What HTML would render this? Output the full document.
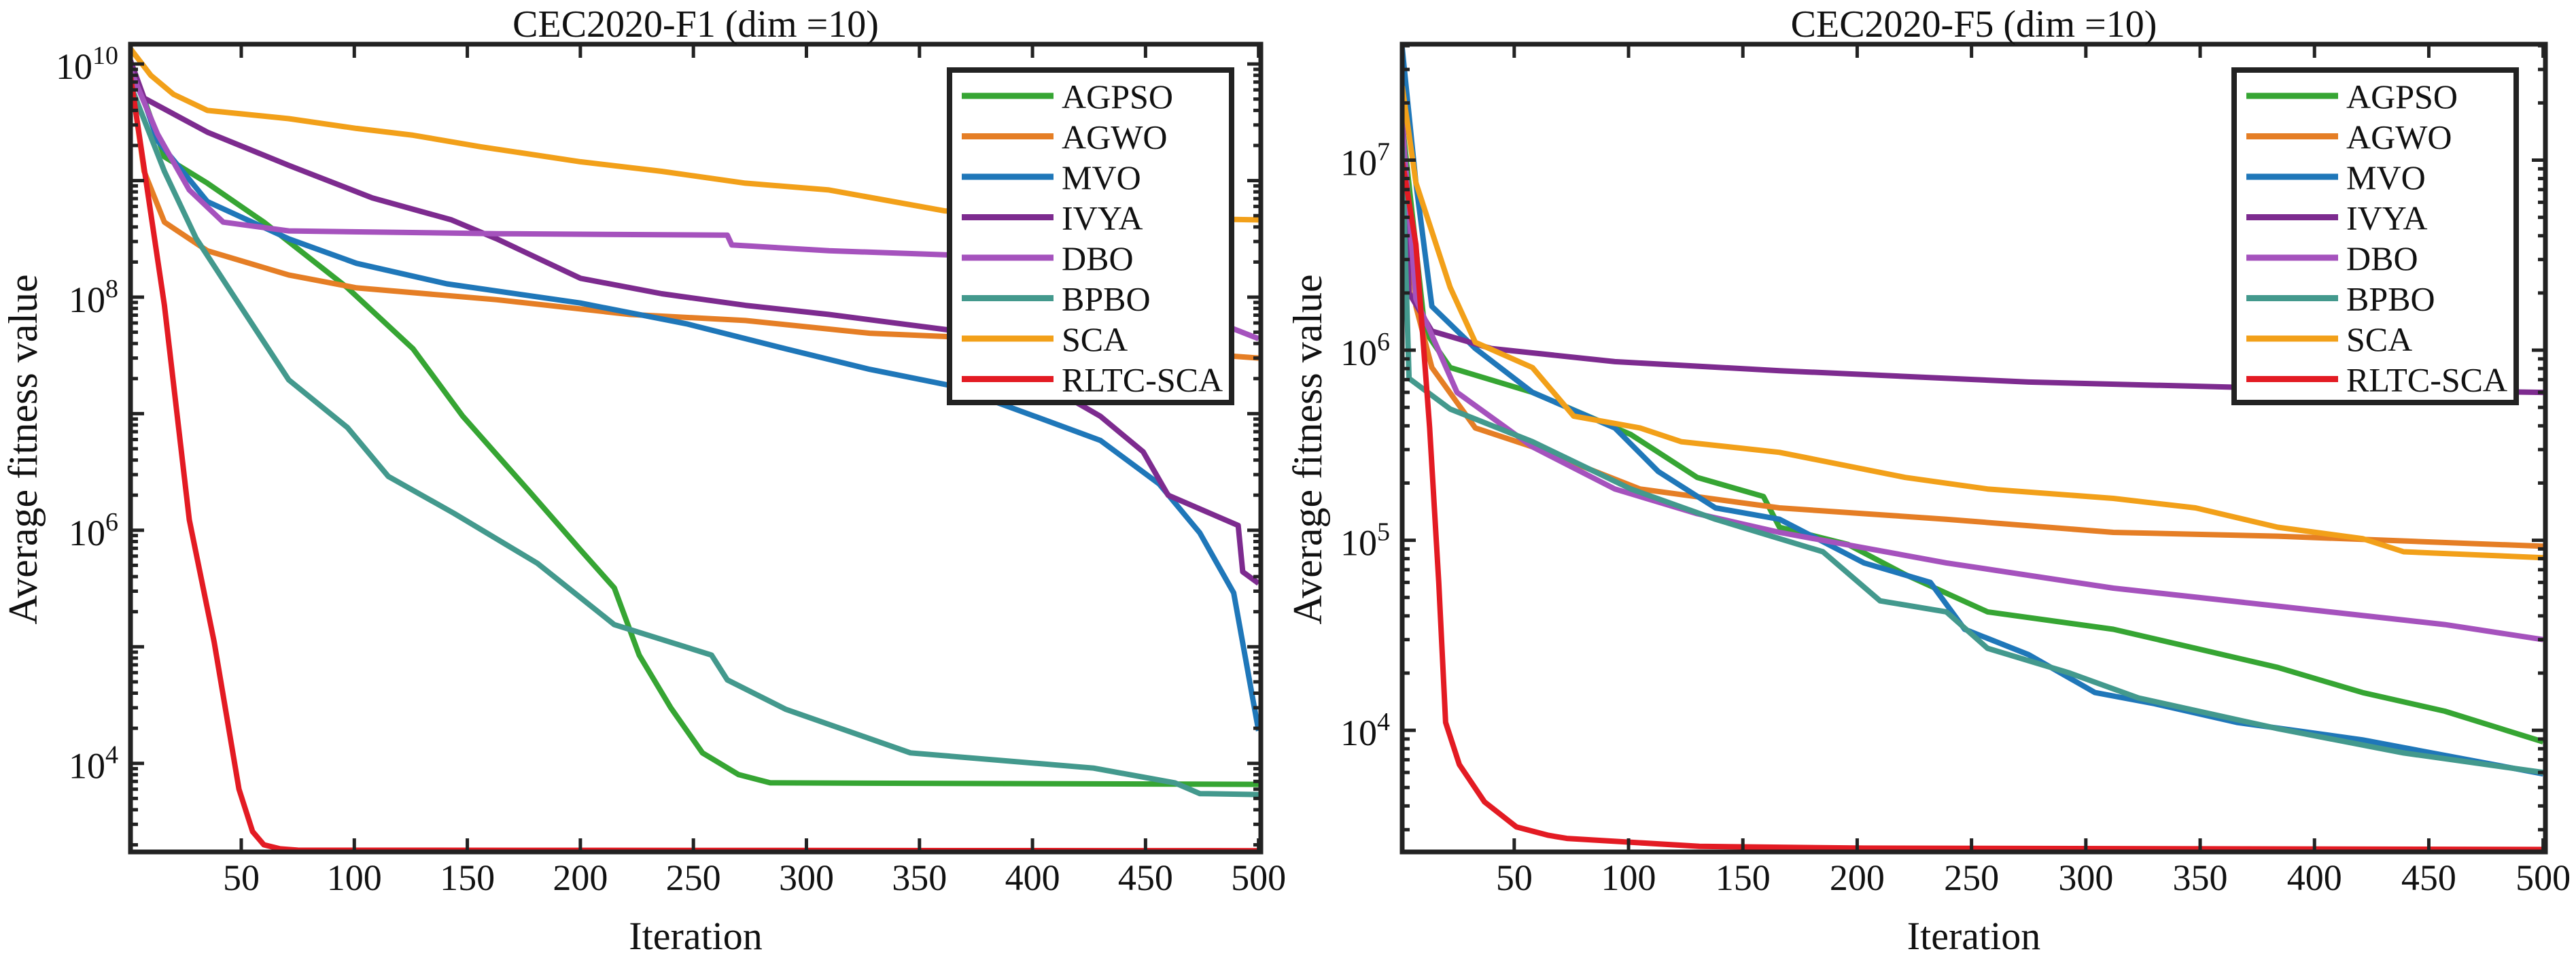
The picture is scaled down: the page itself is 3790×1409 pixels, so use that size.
<!DOCTYPE html>
<html><head><meta charset="utf-8"><style>
html,body{margin:0;padding:0;background:#fff;}
svg text{font-family:"Liberation Serif",serif;fill:#111;}
</style></head><body>
<svg id="chart" width="3790" height="1404" viewBox="0 0 3790 1404" xmlns="http://www.w3.org/2000/svg"></svg>
<script>
// ===== Data: CEC2020-F1 =====
const f1_it_AGPSO=[1,16,35,60,97,126,148,177,200,215,226,240,254,270,284,500];
const f1_v_AGPSO=[1.07e10,1.6e9,9.5e8,4.4e8,1.2e8,3.6e7,9.5e6,2.2e6,6.8e5,3.2e5,8.5e4,3.0e4,1.23e4,8.0e3,6.8e3,6.6e3];
const f1_it_AGWO=[1,7,16,35,71,101,163,222,273,328,383,500];
const f1_v_AGWO=[8.3e9,1.2e9,4.4e8,2.5e8,1.55e8,1.2e8,9.5e7,7.1e7,6.3e7,4.9e7,4.4e7,3.0e7];
const f1_it_MVO=[1,13,35,71,101,141,200,247,291,328,364,401,430,456,474,489,500];
const f1_v_MVO=[1.07e10,2.2e9,6.6e8,3.16e8,1.95e8,1.3e8,8.9e7,5.9e7,3.6e7,2.4e7,1.74e7,9.5e6,5.9e6,2.5e6,9.5e5,2.9e5,1.9e4];
const f1_it_IVYA=[1,7,35,71,108,143,163,200,236,273,310,364,420,430,449,460,491,493,500];
const f1_v_IVYA=[1.07e10,5.1e9,2.6e9,1.35e9,7.1e8,4.6e8,3.16e8,1.45e8,1.07e8,8.5e7,7.1e7,5.2e7,1.23e7,9.5e6,4.7e6,2.0e6,1.1e6,4.4e5,3.5e5];
const f1_it_DBO=[1,13,27,42,71,163,265,267,310,364,456,500];
const f1_v_DBO=[8.9e9,2.5e9,8.3e8,4.4e8,3.7e8,3.5e8,3.4e8,2.8e8,2.5e8,2.3e8,9.5e7,4.4e7];
const f1_it_BPBO=[1,16,30,46,71,97,115,144,181,215,258,265,291,346,427,463,474,500];
const f1_v_BPBO=[6.6e9,1.2e9,3.2e8,1.07e8,1.95e7,7.6e6,2.9e6,1.4e6,5.2e5,1.55e5,8.5e4,5.2e4,2.9e4,1.23e4,9.1e3,6.8e3,5.5e3,5.4e3];
const f1_it_SCA=[1,10,20,35,71,101,126,156,200,236,273,310,361,420,500];
const f1_v_SCA=[1.35e10,8.0e9,5.5e9,4.0e9,3.4e9,2.8e9,2.45e9,1.95e9,1.45e9,1.2e9,9.5e8,8.3e8,5.5e8,4.9e8,4.6e8];
const f1_it_RLTC=[1,16,27,38,49,55,60,67,75,500];
const f1_v_RLTC=[7.9e9,8.5e7,1.23e6,1.1e5,6.0e3,2.6e3,2.0e3,1.85e3,1.8e3,1.78e3];
// ===== Data: CEC2020-F5 =====
const f5_it_AGPSO=[1,11,22,58,101,130,159,166,196,221,257,312,348,384,421,457,500];
const f5_v_AGPSO=[1.58e7,1.26e6,8.1e5,6.0e5,3.6e5,2.14e5,1.7e5,1.17e5,9.5e4,6.6e4,4.2e4,3.4e4,2.7e4,2.14e4,1.58e4,1.26e4,8.7e3];
const f5_it_AGWO=[1,7,14,33,58,105,166,239,312,384,500];
const f5_v_AGWO=[1.26e7,1.7e6,8.1e5,3.9e5,3.1e5,1.86e5,1.48e5,1.29e5,1.1e5,1.05e5,9.3e4];
const f5_it_MVO=[1,7,14,33,58,94,113,138,166,203,232,247,275,304,330,366,421,500];
const f5_v_MVO=[3.9e7,7.6e6,1.7e6,1.02e6,6.0e5,3.9e5,2.3e5,1.48e5,1.29e5,7.6e4,6.0e4,3.4e4,2.5e4,1.58e4,1.38e4,1.1e4,8.9e3,5.9e3];
const f5_it_IVYA=[1,4,14,40,94,166,275,384,500];
const f5_v_IVYA=[2.1e7,2.0e6,1.26e6,1.02e6,8.7e5,7.8e5,6.8e5,6.3e5,6.0e5];
const f5_it_DBO=[1,7,25,58,94,130,166,239,312,384,457,500];
const f5_v_DBO=[1.58e7,1.86e6,6.0e5,3.1e5,1.86e5,1.38e5,1.1e5,7.6e4,5.6e4,4.5e4,3.6e4,3.0e4];
const f5_it_BPBO=[1,4,22,58,101,138,185,210,239,257,293,323,384,439,500];
const f5_v_BPBO=[1.17e7,7.1e5,4.9e5,3.3e5,1.86e5,1.29e5,8.7e4,4.8e4,4.2e4,2.7e4,2.0e4,1.48e4,1.02e4,7.6e3,6.0e3];
const f5_it_SCA=[1,7,22,33,58,76,105,123,166,221,257,312,348,384,421,439,500];
const f5_v_SCA=[2.45e7,7.6e6,2.14e6,1.1e6,8.1e5,4.5e5,3.9e5,3.3e5,2.9e5,2.14e5,1.86e5,1.66e5,1.48e5,1.17e5,1.02e5,8.7e4,8.1e4];
const f5_it_RLTC=[1,7,13,17,20,26,37,51,65,73,131,203,500];
const f5_v_RLTC=[1.0e7,3.6e6,3.9e5,6.0e4,1.1e4,6.6e3,4.2e3,3.1e3,2.8e3,2.7e3,2.45e3,2.4e3,2.36e3];

const seriesNames=["AGPSO","AGWO","MVO","IVYA","DBO","BPBO","SCA","RLTC-SCA"];
const xTicks=[50,100,150,200,250,300,350,400,450,500];
const f1_yTickExp=[4,6,8,10];
const f5_yTickExp=[4,5,6,7];

const colors=["#36a533","#e57e25","#1f77b9","#7d2b8f","#a552bd","#43998d","#f2a019","#e31b23"];
const NS="http://www.w3.org/2000/svg";
const svg=document.getElementById('chart');
function mk(tag,attrs,parent){const e=document.createElementNS(NS,tag);for(const k in attrs)e.setAttribute(k,attrs[k]);(parent||svg).appendChild(e);return e;}

function panel(cfg){
  const g=mk('g',{});
  
  
  const L=cfg.L,R=cfg.R,T=65,B=1253;
  const xs=v=>L+(v-1)*(R-L)/500;
  const ys=v=>T+(cfg.ymax-Math.log10(v))*(B-T)/(cfg.ymax-cfg.ymin);
  const cp=mk('clipPath',{id:'clip'+cfg.id},g);
  mk('rect',{x:L,y:T,width:R-L,height:B-T},cp);
  const sg=mk('g',{'clip-path':'url(#clip'+cfg.id+')'},g);
  cfg.series.forEach((s,i)=>{
    const d=s.it.map((t,j)=>(j?'L':'M')+xs(t).toFixed(1)+' '+ys(s.v[j]).toFixed(1)).join(' ');
    const p=mk('path',{d:d,fill:'none',stroke:colors[i],'stroke-width':8,'stroke-linejoin':'round'},sg);
    
    
  });
  const tg=mk('g',{stroke:'#222','stroke-width':5},g);
  xTicks.forEach(t=>{
    const x=xs(t);
    mk('line',{x1:x,y1:B,x2:x,y2:B-20},tg);
    mk('line',{x1:x,y1:T,x2:x,y2:T+20},tg);
    const lb=mk('text',{x:x,y:B+56,'text-anchor':'middle','font-size':54},g);
    lb.textContent=t;
    
    
  });
  for(let e=Math.floor(cfg.ymin);e<=Math.ceil(cfg.ymax);e++){
    for(let m=1;m<10;m++){
      const v=m*Math.pow(10,e);
      const lv=Math.log10(v);
      if(lv<cfg.ymin||lv>cfg.ymax)continue;
      const y=ys(v);const len=m===1?20:11;
      mk('line',{x1:L,y1:y,x2:L+len,y2:y},tg);
      mk('line',{x1:R,y1:y,x2:R-len,y2:y},tg);
    }
  }
  cfg.yExp.forEach(e=>{
    const y=ys(Math.pow(10,e));
    const t=mk('text',{x:L-18,y:y+22,'text-anchor':'end','font-size':54},g);
    
    
    const a=mk('tspan',{},t);a.textContent='10';
    const b=mk('tspan',{dy:-22,'font-size':38},t);b.textContent=String(e);
  });
  const fr=mk('rect',{x:L,y:T,width:R-L,height:B-T,fill:'none',stroke:'#222','stroke-width':7},g);
  
  
  const cx=(L+R)/2;
  const ti=mk('text',{x:cx,y:54,'text-anchor':'middle','font-size':56},g);ti.textContent=cfg.title;
  
  
  const xl=mk('text',{x:cx,y:1396,'text-anchor':'middle','font-size':58},g);xl.textContent='Iteration';
  
  
  const yl=mk('text',{x:0,y:0,'text-anchor':'middle','font-size':60,transform:'translate('+(cfg.ylx)+',661) rotate(-90)'},g);
  yl.textContent='Average fitness value';
  
  
  const lg=mk('g',{},g);
  
  
  const lx=R-458;
  mk('rect',{x:lx,y:103,width:415,height:489,fill:'#fff',stroke:'#222','stroke-width':8},lg);
  seriesNames.forEach((n,i)=>{
    const y=141+i*59.5;
    const e=mk('g',{},lg);
    
    
    mk('line',{x1:lx+18,y1:y,x2:lx+153,y2:y,stroke:colors[i],'stroke-width':9},e);
    const t=mk('text',{x:lx+165,y:y+18,'font-size':50},e);t.textContent=n;
  });
}

panel({id:1,name:'panel-f1',title:'CEC2020-F1 (dim =10)',L:192,R:1855,ymin:3.24,ymax:10.17,yExp:f1_yTickExp,ylx:54,
  series:[{it:f1_it_AGPSO,v:f1_v_AGPSO},{it:f1_it_AGWO,v:f1_v_AGWO},{it:f1_it_MVO,v:f1_v_MVO},{it:f1_it_IVYA,v:f1_v_IVYA},{it:f1_it_DBO,v:f1_v_DBO},{it:f1_it_BPBO,v:f1_v_BPBO},{it:f1_it_SCA,v:f1_v_SCA},{it:f1_it_RLTC,v:f1_v_RLTC}]});
panel({id:5,name:'panel-f5',title:'CEC2020-F5 (dim =10)',L:2063,R:3745,ymin:3.36,ymax:7.61,yExp:f5_yTickExp,ylx:1944,
  series:[{it:f5_it_AGPSO,v:f5_v_AGPSO},{it:f5_it_AGWO,v:f5_v_AGWO},{it:f5_it_MVO,v:f5_v_MVO},{it:f5_it_IVYA,v:f5_v_IVYA},{it:f5_it_DBO,v:f5_v_DBO},{it:f5_it_BPBO,v:f5_v_BPBO},{it:f5_it_SCA,v:f5_v_SCA},{it:f5_it_RLTC,v:f5_v_RLTC}]});
</script>
</body></html>
